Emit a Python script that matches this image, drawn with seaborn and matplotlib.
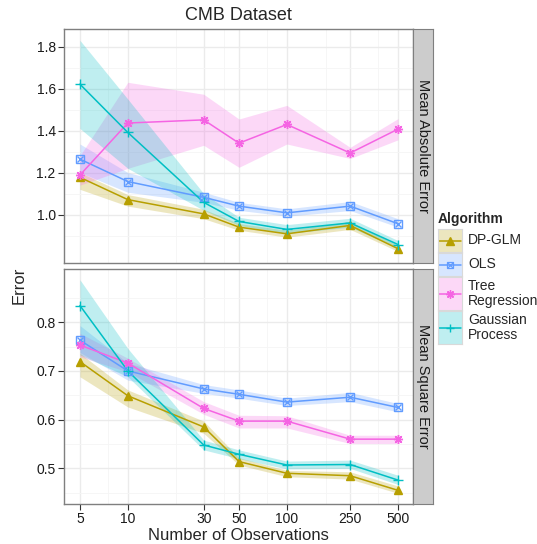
import numpy as np
import pandas as pd
import matplotlib
matplotlib.use("Agg")
import matplotlib.pyplot as plt
import seaborn as sns
from matplotlib.patches import Rectangle

sns.set_style("white")
plt.rcParams['font.family'] = ['Liberation Sans', 'DejaVu Sans']

# Данные
n_obs = [5, 10, 30, 50, 100, 250, 500]
algorithms = ["DP-GLM", "OLS", "Tree\nRegression", "Gaussian\nProcess"]
colors = ["#B79F00", "#619CFF", "#F564E3", "#00BFC4"]

# Mean Absolute Error
mae_dpglm = [1.177, 1.071, 1.003, 0.940, 0.908, 0.948, 0.837]
mae_dpglm_lo = [1.12, 1.04, 0.98, 0.925, 0.892, 0.929, 0.824]
mae_dpglm_hi = [1.20, 1.095, 1.025, 0.957, 0.925, 0.967, 0.853]
mae_ols = [1.264, 1.157, 1.082, 1.040, 1.008, 1.040, 0.956]
mae_ols_lo = [1.20, 1.106, 1.058, 1.02, 0.992, 1.019, 0.94]
mae_ols_hi = [1.336, 1.20, 1.106, 1.058, 1.027, 1.062, 0.98]
mae_tree = [1.188, 1.436, 1.451, 1.340, 1.429, 1.293, 1.407]
mae_tree_lo = [1.14, 1.22, 1.33, 1.225, 1.336, 1.267, 1.356]
mae_tree_hi = [1.28, 1.63, 1.573, 1.455, 1.52, 1.32, 1.457]
mae_gp = [1.621, 1.391, 1.058, 0.967, 0.929, 0.960, 0.857]
mae_gp_lo = [1.41, 1.22, 1.02, 0.948, 0.91, 0.94, 0.84]
mae_gp_hi = [1.83, 1.55, 1.10, 0.987, 0.952, 0.982, 0.876]

# Mean Square Error
mse_dpglm = [0.719, 0.649, 0.585, 0.514, 0.490, 0.485, 0.455]
mse_dpglm_lo = [0.688, 0.626, 0.572, 0.507, 0.483, 0.478, 0.449]
mse_dpglm_hi = [0.736, 0.661, 0.597, 0.522, 0.496, 0.493, 0.464]
mse_ols = [0.763, 0.700, 0.663, 0.652, 0.636, 0.646, 0.625]
mse_ols_lo = [0.738, 0.681, 0.654, 0.644, 0.629, 0.637, 0.616]
mse_ols_hi = [0.793, 0.716, 0.672, 0.661, 0.644, 0.656, 0.633]
mse_tree = [0.753, 0.716, 0.623, 0.597, 0.597, 0.560, 0.560]
mse_tree_lo = [0.729, 0.698, 0.611, 0.583, 0.583, 0.551, 0.551]
mse_tree_hi = [0.777, 0.726, 0.637, 0.609, 0.608, 0.568, 0.568]
mse_gp = [0.834, 0.700, 0.548, 0.529, 0.507, 0.508, 0.476]
mse_gp_lo = [0.733, 0.688, 0.538, 0.52, 0.499, 0.50, 0.467]
mse_gp_hi = [0.887, 0.746, 0.558, 0.538, 0.515, 0.517, 0.486]

panels = [
    ("Mean Absolute Error",
     [mae_dpglm, mae_ols, mae_tree, mae_gp],
     [mae_dpglm_lo, mae_ols_lo, mae_tree_lo, mae_gp_lo],
     [mae_dpglm_hi, mae_ols_hi, mae_tree_hi, mae_gp_hi],
     (0.769, 1.884), [1.0, 1.2, 1.4, 1.6, 1.8]),
    ("Mean Square Error",
     [mse_dpglm, mse_ols, mse_tree, mse_gp],
     [mse_dpglm_lo, mse_ols_lo, mse_tree_lo, mse_gp_lo],
     [mse_dpglm_hi, mse_ols_hi, mse_tree_hi, mse_gp_hi],
     (0.427, 0.909), [0.5, 0.6, 0.7, 0.8]),
]

markers = {"DP-GLM": "^", "OLS": "s", "Tree\nRegression": (8, 2, 0), "Gaussian\nProcess": "+"}
minor_x = [7.5, 20, 40, 75, 175, 375]

W, H = 537, 544
fig = plt.figure(figsize=(W / 100, H / 100), dpi=100)

panel_boxes = [(64, 29, 413, 263), (64, 269, 413, 504)]

for (name, vals, los, his, ylim, yticks), (x0, y0, x1, y1) in zip(panels, panel_boxes):
    ax = fig.add_axes([x0 / W, 1 - y1 / H, (x1 - x0) / W, (y1 - y0) / H])
    rows = []
    for alg, v in zip(algorithms, vals):
        for n, e in zip(n_obs, v):
            rows.append({"n": n, "Error": e, "Algorithm": alg})
    df = pd.DataFrame(rows)

    for alg, col, lo, hi in zip(algorithms, colors, los, his):
        ax.fill_between(n_obs, lo, hi, color=col, alpha=0.25, linewidth=0, zorder=2)

    sns.lineplot(data=df, x="n", y="Error", hue="Algorithm", palette=colors,
                 hue_order=algorithms, legend=False, ax=ax, linewidth=1.1, zorder=3)
    for alg, col, v in zip(algorithms, colors, vals):
        if alg == "OLS":
            ax.plot(n_obs, v, ls="none", marker="s", mfc="none", mec=col, ms=6, mew=1, zorder=4)
            ax.plot(n_obs, v, ls="none", marker="x", color=col, ms=5, mew=1, zorder=4)
        elif alg == "DP-GLM":
            ax.plot(n_obs, v, ls="none", marker="^", color=col, ms=6, zorder=4)
        else:
            ax.plot(n_obs, v, ls="none", marker=markers[alg], color=col, ms=6.5, mew=1, zorder=4)

    ax.set_xscale("log")
    ax.set_xlim(3.97, 621)
    ax.set_xticks(n_obs)
    ax.set_xticks(minor_x, minor=True)
    ax.set_yticks(yticks)
    step = yticks[1] - yticks[0]
    ax.set_yticks(np.arange(yticks[0] - step * 1.5, yticks[-1] + step, step), minor=True)
    ax.set_ylim(*ylim)
    ax.grid(True, which="major", color="#EBEBEB", linewidth=1.0, zorder=0)
    ax.grid(True, which="minor", color="#F5F5F5", linewidth=0.6, zorder=0)
    ax.set_axisbelow(True)
    for s in ax.spines.values():
        s.set_color("#7F7F7F")
        s.set_linewidth(1.0)
    ax.tick_params(which="minor", length=0)
    ax.tick_params(which="major", length=4, width=0.8, color="#333333", pad=2,
                   labelsize=10, labelcolor="#1A1A1A", direction="out", left=True, bottom=True)
    ax.set_xlabel("")
    ax.set_ylabel("")
    if y0 == 29:
        ax.set_xticklabels([])
        ax.tick_params(axis="x", length=0)
    else:
        ax.set_xticklabels([str(n) for n in n_obs])

    # полоса фасета справа
    sax = fig.add_axes([x1 / W, 1 - y1 / H, 20 / W, (y1 - y0) / H])
    sax.set_facecolor("#CCCCCC")
    sax.set_xticks([])
    sax.set_yticks([])
    for s in sax.spines.values():
        s.set_color("#7F7F7F")
    sax.text(0.5, 0.5, name, rotation=-90, ha="center", va="center", fontsize=10.5,
             color="#1A1A1A", transform=sax.transAxes)

fig.text(238 / W, 1 - 16 / H, "CMB Dataset", ha="center", va="center", fontsize=13)
fig.text(19 / W, 1 - 285 / H, "Error", ha="center", va="center", rotation=90, fontsize=12)
fig.text(238 / W, 1 - 536 / H, "Number of Observations", ha="center", va="center", fontsize=12)

# легенда
fig.text(438 / W, 1 - 219 / H, "Algorithm", ha="left", va="center", fontsize=10, fontweight="bold")
key_tops = [229, 253, 277, 311]
key_h = [23, 23, 33, 33]
for alg, col, kt, kh in zip(algorithms, colors, key_tops, key_h):
    lax = fig.add_axes([438 / W, 1 - (kt + kh) / H, 24 / W, kh / H])
    lax.set_xlim(0, 1)
    lax.set_ylim(0, 1)
    lax.add_patch(Rectangle((0, 0), 1, 1, facecolor=col, alpha=0.25, edgecolor="none"))
    lax.plot([0.05, 0.95], [0.5, 0.5], color=col, linewidth=1.1)
    if alg == "OLS":
        lax.plot([0.5], [0.5], marker="s", mfc="none", mec=col, ms=5, mew=0.9, ls="none")
        lax.plot([0.5], [0.5], marker="x", color=col, ms=4, mew=0.9, ls="none")
    elif alg == "DP-GLM":
        lax.plot([0.5], [0.5], marker="^", color=col, ms=5.5, ls="none")
    else:
        lax.plot([0.5], [0.5], marker=markers[alg], color=col, ms=6, mew=1, ls="none")
    lax.set_xticks([])
    lax.set_yticks([])
    for s in lax.spines.values():
        s.set_color("#D9D9D9")
        s.set_linewidth(0.8)
    fig.text(468 / W, 1 - (kt + kh / 2) / H, alg, ha="left", va="center", fontsize=10,
             linespacing=1.15)

fig.savefig("out.png", dpi=100)
